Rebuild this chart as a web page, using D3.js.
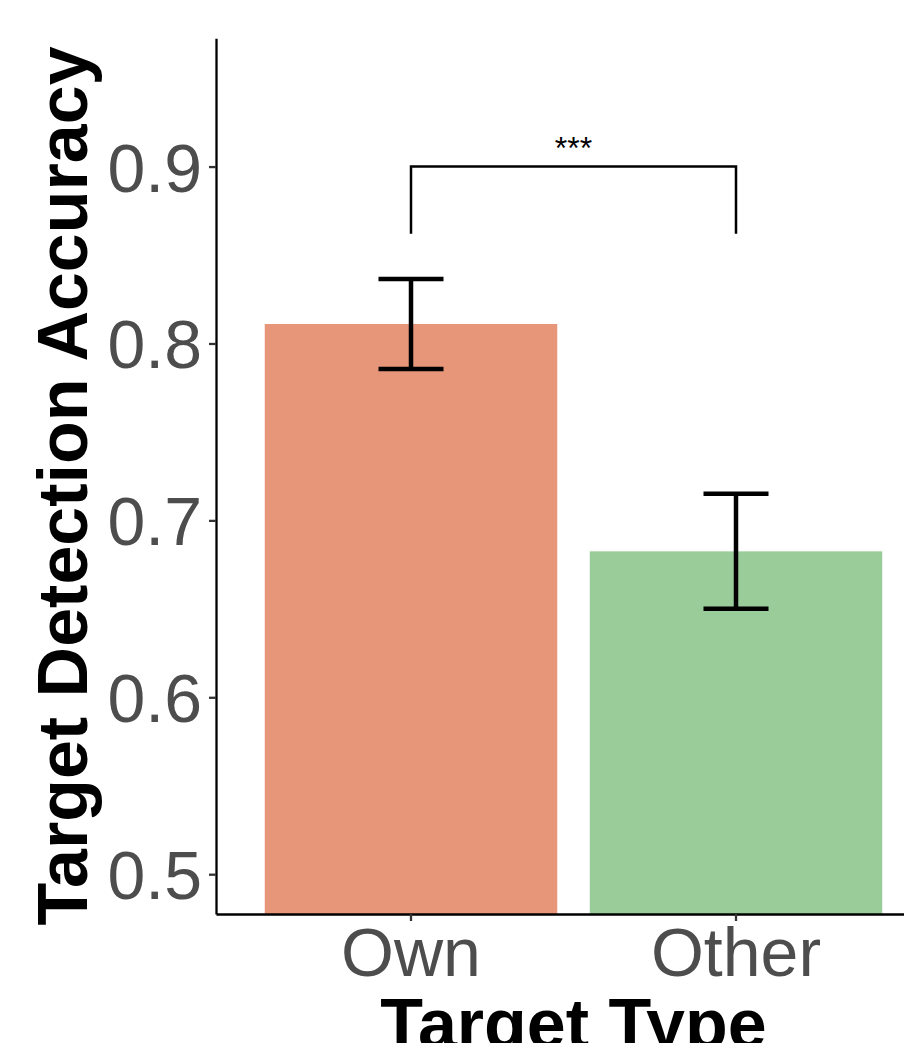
<!DOCTYPE html>
<html>
<head>
<meta charset="utf-8">
<script src="https://cdn.jsdelivr.net/npm/d3@7"></script>
<style>
  body { margin: 0; background: #fff; }
  svg { display: block; }
</style>
</head>
<body>
<main></main>
<script>
// values
const categories = ["Own", "Other"];
const means = [0.811, 0.6825];
const errors = [0.0255, 0.0325];
const barColors = ["#E8967A", "#99CC98"];
const yTicks = [0.5, 0.6, 0.7, 0.8, 0.9];
const yLimits = [0.4775, 0.9725];
const bracketPair = ["Own", "Other"];
const bracketLevel = 0.9;
const bracketTip = 0.862;
const bracketLabel = "***";

const width = 904;
const height = 1043;
const font = "'Liberation Sans', Arial, Helvetica, sans-serif";

const panel = { left: 216, right: 931, top: 38.3, bottom: 914 };

const svg = d3.select("main")
  .append("svg")
  .attr("width", width)
  .attr("height", height)
  .style("font-family", font);

const x = d3.scaleBand()
  .domain(categories)
  .range([panel.left, panel.right])
  .paddingInner(0.1)
  .paddingOuter(0.15);

const y = d3.scaleLinear()
  .domain(yLimits)
  .range([panel.bottom, panel.top]);

const data = categories.map((c, i) => ({ cat: c, mean: means[i], err: errors[i], color: barColors[i] }));

// bars
svg.append("g")
  .selectAll("rect")
  .data(data)
  .enter()
  .append("rect")
  .attr("x", d => x(d.cat))
  .attr("y", d => y(d.mean))
  .attr("width", x.bandwidth())
  .attr("height", d => panel.bottom - y(d.mean))
  .attr("fill", d => d.color);

// error bars
const capHalf = x.step() * 0.1;
const eb = svg.append("g")
  .attr("stroke", "#000")
  .attr("stroke-width", 4.5)
  .selectAll("g")
  .data(data)
  .enter()
  .append("g");

eb.append("line")
  .attr("x1", d => x(d.cat) + x.bandwidth() / 2)
  .attr("x2", d => x(d.cat) + x.bandwidth() / 2)
  .attr("y1", d => y(d.mean + d.err))
  .attr("y2", d => y(d.mean - d.err));

eb.append("line")
  .attr("x1", d => x(d.cat) + x.bandwidth() / 2 - capHalf)
  .attr("x2", d => x(d.cat) + x.bandwidth() / 2 + capHalf)
  .attr("y1", d => y(d.mean + d.err))
  .attr("y2", d => y(d.mean + d.err));

eb.append("line")
  .attr("x1", d => x(d.cat) + x.bandwidth() / 2 - capHalf)
  .attr("x2", d => x(d.cat) + x.bandwidth() / 2 + capHalf)
  .attr("y1", d => y(d.mean - d.err))
  .attr("y2", d => y(d.mean - d.err));

// significance bracket
const bx1 = x(bracketPair[0]) + x.bandwidth() / 2;
const bx2 = x(bracketPair[1]) + x.bandwidth() / 2;
svg.append("path")
  .attr("d", d3.line()([
    [bx1, y(bracketTip)], [bx1, y(bracketLevel)],
    [bx2, y(bracketLevel)], [bx2, y(bracketTip)]
  ]))
  .attr("fill", "none")
  .attr("stroke", "#000")
  .attr("stroke-width", 2.5);

svg.append("text")
  .attr("x", (bx1 + bx2) / 2)
  .attr("y", y(bracketLevel) - 8)
  .attr("text-anchor", "middle")
  .attr("font-size", 32)
  .attr("fill", "#000")
  .text(bracketLabel);

// axes
const yAxis = svg.append("g")
  .attr("transform", `translate(${panel.left},0)`)
  .call(d3.axisLeft(y).tickValues(yTicks).tickFormat(d3.format(".1f"))
    .tickSize(7).tickSizeOuter(0).tickPadding(7));

const xAxis = svg.append("g")
  .attr("transform", `translate(0,${panel.bottom})`)
  .call(d3.axisBottom(x).tickSize(7).tickSizeOuter(0).tickPadding(7));

[yAxis, xAxis].forEach(ax => {
  ax.attr("font-family", font).attr("font-size", 68);
  ax.select(".domain").attr("stroke", "#000").attr("stroke-width", 2.3);
  ax.selectAll(".tick line").attr("stroke", "#333").attr("stroke-width", 2.3);
  ax.selectAll(".tick text").attr("fill", "#4D4D4D");
});
yAxis.selectAll(".tick text").attr("dy", "0.36em");

// axis titles
svg.append("text")
  .attr("transform", "translate(87,486) rotate(-90)")
  .attr("text-anchor", "middle")
  .attr("font-size", 70)
  .attr("font-weight", "bold")
  .attr("fill", "#000")
  .text("Target Detection Accuracy");

svg.append("text")
  .attr("x", (panel.left + panel.right) / 2)
  .attr("y", 1048)
  .attr("text-anchor", "middle")
  .attr("font-size", 70)
  .attr("font-weight", "bold")
  .attr("fill", "#000")
  .text("Target Type");
</script>
</body>
</html>
